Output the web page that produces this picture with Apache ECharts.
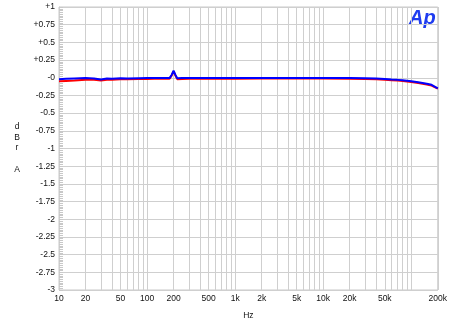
<!DOCTYPE html>
<html><head><meta charset="utf-8">
<script src="https://cdn.jsdelivr.net/npm/echarts@6/dist/echarts.min.js"></script>
<style>html,body{margin:0;padding:0;background:#fff}#c{width:450px;height:327px}</style>
</head><body><div id="c"></div>
<script>
// Frequencies (Hz)
const freq = [10, 12, 15, 20, 25, 30, 35, 40, 50, 60, 80, 100, 120, 150, 180, 190, 200, 210, 220, 250, 300, 500, 1000, 2000, 5000, 10000, 20000, 30000, 40000, 50000, 60000, 70000, 80000, 100000, 120000, 150000, 170000, 200000];
// Channel A (blue), dBr
const blueDb = [-0.02, -0.015, -0.01, -0.005, -0.01, -0.025, -0.01, -0.015, -0.008, -0.01, -0.006, -0.005, -0.005, -0.005, -0.005, 0.04, 0.1, 0.04, -0.008, -0.005, -0.004, -0.004, -0.004, -0.004, -0.004, -0.004, -0.005, -0.008, -0.012, -0.018, -0.025, -0.03, -0.037, -0.05, -0.065, -0.085, -0.1, -0.15];
// Channel B (red), dBr
const redDb = [-0.05, -0.045, -0.04, -0.03, -0.028, -0.04, -0.03, -0.027, -0.022, -0.02, -0.018, -0.016, -0.015, -0.015, -0.015, 0.03, 0.09, 0.03, -0.02, -0.016, -0.015, -0.014, -0.013, -0.012, -0.012, -0.012, -0.014, -0.018, -0.022, -0.028, -0.035, -0.04, -0.047, -0.06, -0.075, -0.095, -0.11, -0.155];
// X gridlines and labels
const xGrid = [10,20,30,40,50,60,70,80,90,100,200,300,400,500,600,700,800,900,1000,2000,3000,4000,5000,6000,7000,8000,9000,10000,20000,30000,40000,50000,60000,70000,80000,90000,100000,200000];
const xLabels = [10,20,50,100,200,500,1000,2000,5000,10000,20000,50000,200000];
const yMin = -3, yMax = 1, yStep = 0.25;

const font = 'Liberation Sans, Arial, sans-serif';
const chart = echarts.init(document.getElementById('c'));
const mk = (a) => freq.map((f, i) => [f, a[i]]);
const lbl = (t, y) => ({type: 'text', x: 17, y: y, style: {text: t, fill: '#111', font: '8.5px Liberation Sans, Arial', align: 'center', verticalAlign: 'middle'}});
chart.setOption({
  animation: false,
  backgroundColor: '#fff',
  grid: {left: 59, right: 12, top: 7, bottom: 37, show: true, borderColor: '#c8c8c8', borderWidth: 1},
  xAxis: {
    type: 'log', logBase: 10, min: 10, max: 200000,
    axisLine: {show: false},
    axisTick: {show: false, customValues: xGrid},
    splitLine: {show: true, lineStyle: {color: '#cfcfcf', width: 1}},
    axisLabel: {customValues: xLabels, color: '#111', fontSize: 8.5, fontFamily: font, margin: 4,
      formatter: v => v >= 1000 ? (v / 1000) + 'k' : String(v)},
    name: 'Hz', nameLocation: 'middle', nameGap: 21,
    nameTextStyle: {color: '#111', fontSize: 8.5, fontFamily: font}
  },
  yAxis: {
    type: 'value', min: yMin, max: yMax, interval: yStep,
    axisLine: {show: true, lineStyle: {color: '#d0d0d0'}},
    axisTick: {show: true, inside: true, length: 4, lineStyle: {color: '#c8c8c8'}},
    minorTick: {show: true, splitNumber: 10, length: 4, lineStyle: {color: '#c8c8c8'}},
    splitLine: {show: true, lineStyle: {color: '#cfcfcf', width: 1}},
    axisLabel: {color: '#111', fontSize: 8.5, fontFamily: font, margin: 4,
      formatter: v => v > 0 ? '+' + v : (v === 0 ? '-0' : String(v))}
  },
  graphic: [
    {type: 'text', left: 409, top: 8, style: {text: 'Ap', fill: '#1f3cf0', font: 'italic bold 20px Liberation Sans, Arial, sans-serif'}},
    lbl('d', 127), lbl('B', 137.5), lbl('r', 148), lbl('A', 169.5)
  ],
  series: [
    {type: 'line', data: mk(redDb), showSymbol: false, lineStyle: {color: '#ff0000', width: 2}, z: 3},
    {type: 'line', data: mk(blueDb), showSymbol: false, lineStyle: {color: '#0000ff', width: 2}, z: 4}
  ]
});
</script></body></html>
